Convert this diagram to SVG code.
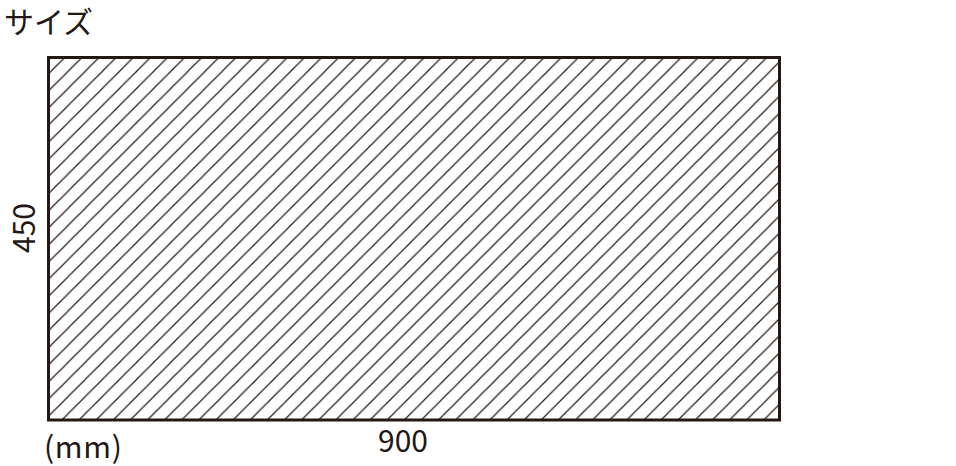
<svg xmlns="http://www.w3.org/2000/svg" width="956" height="466" viewBox="0 0 956 466">
<style>
.t{font-family:"Noto Sans CJK JP","Noto Sans",sans-serif;fill:#231815;font-size:30px}
.h{stroke:#231815;stroke-width:1.2;fill:none}
</style>
<defs>
<pattern id="hatch" patternUnits="userSpaceOnUse" x="0" y="2.46" width="17.12" height="17.12">
<path class="h" d="M0,17.12 L17.12,0 M-2,2 L2,-2 M15.12,19.12 L19.12,15.12"/>
</pattern>
</defs>
<rect width="956" height="466" fill="#fff"/>
<g id="panel">
<rect x="48.5" y="57.5" width="731" height="362.5" fill="url(#hatch)" stroke="#231815" stroke-width="3"/>
</g>
<g id="labels">
<text class="t" x="4" y="33" font-size="27">サイズ</text>
<text class="t" x="0" y="0" text-anchor="middle" transform="translate(35,228) rotate(-90)">450</text>
<text class="t" x="44" y="458" textLength="78">(mm)</text>
<text class="t" x="403" y="452" text-anchor="middle">900</text>
</g>
</svg>
